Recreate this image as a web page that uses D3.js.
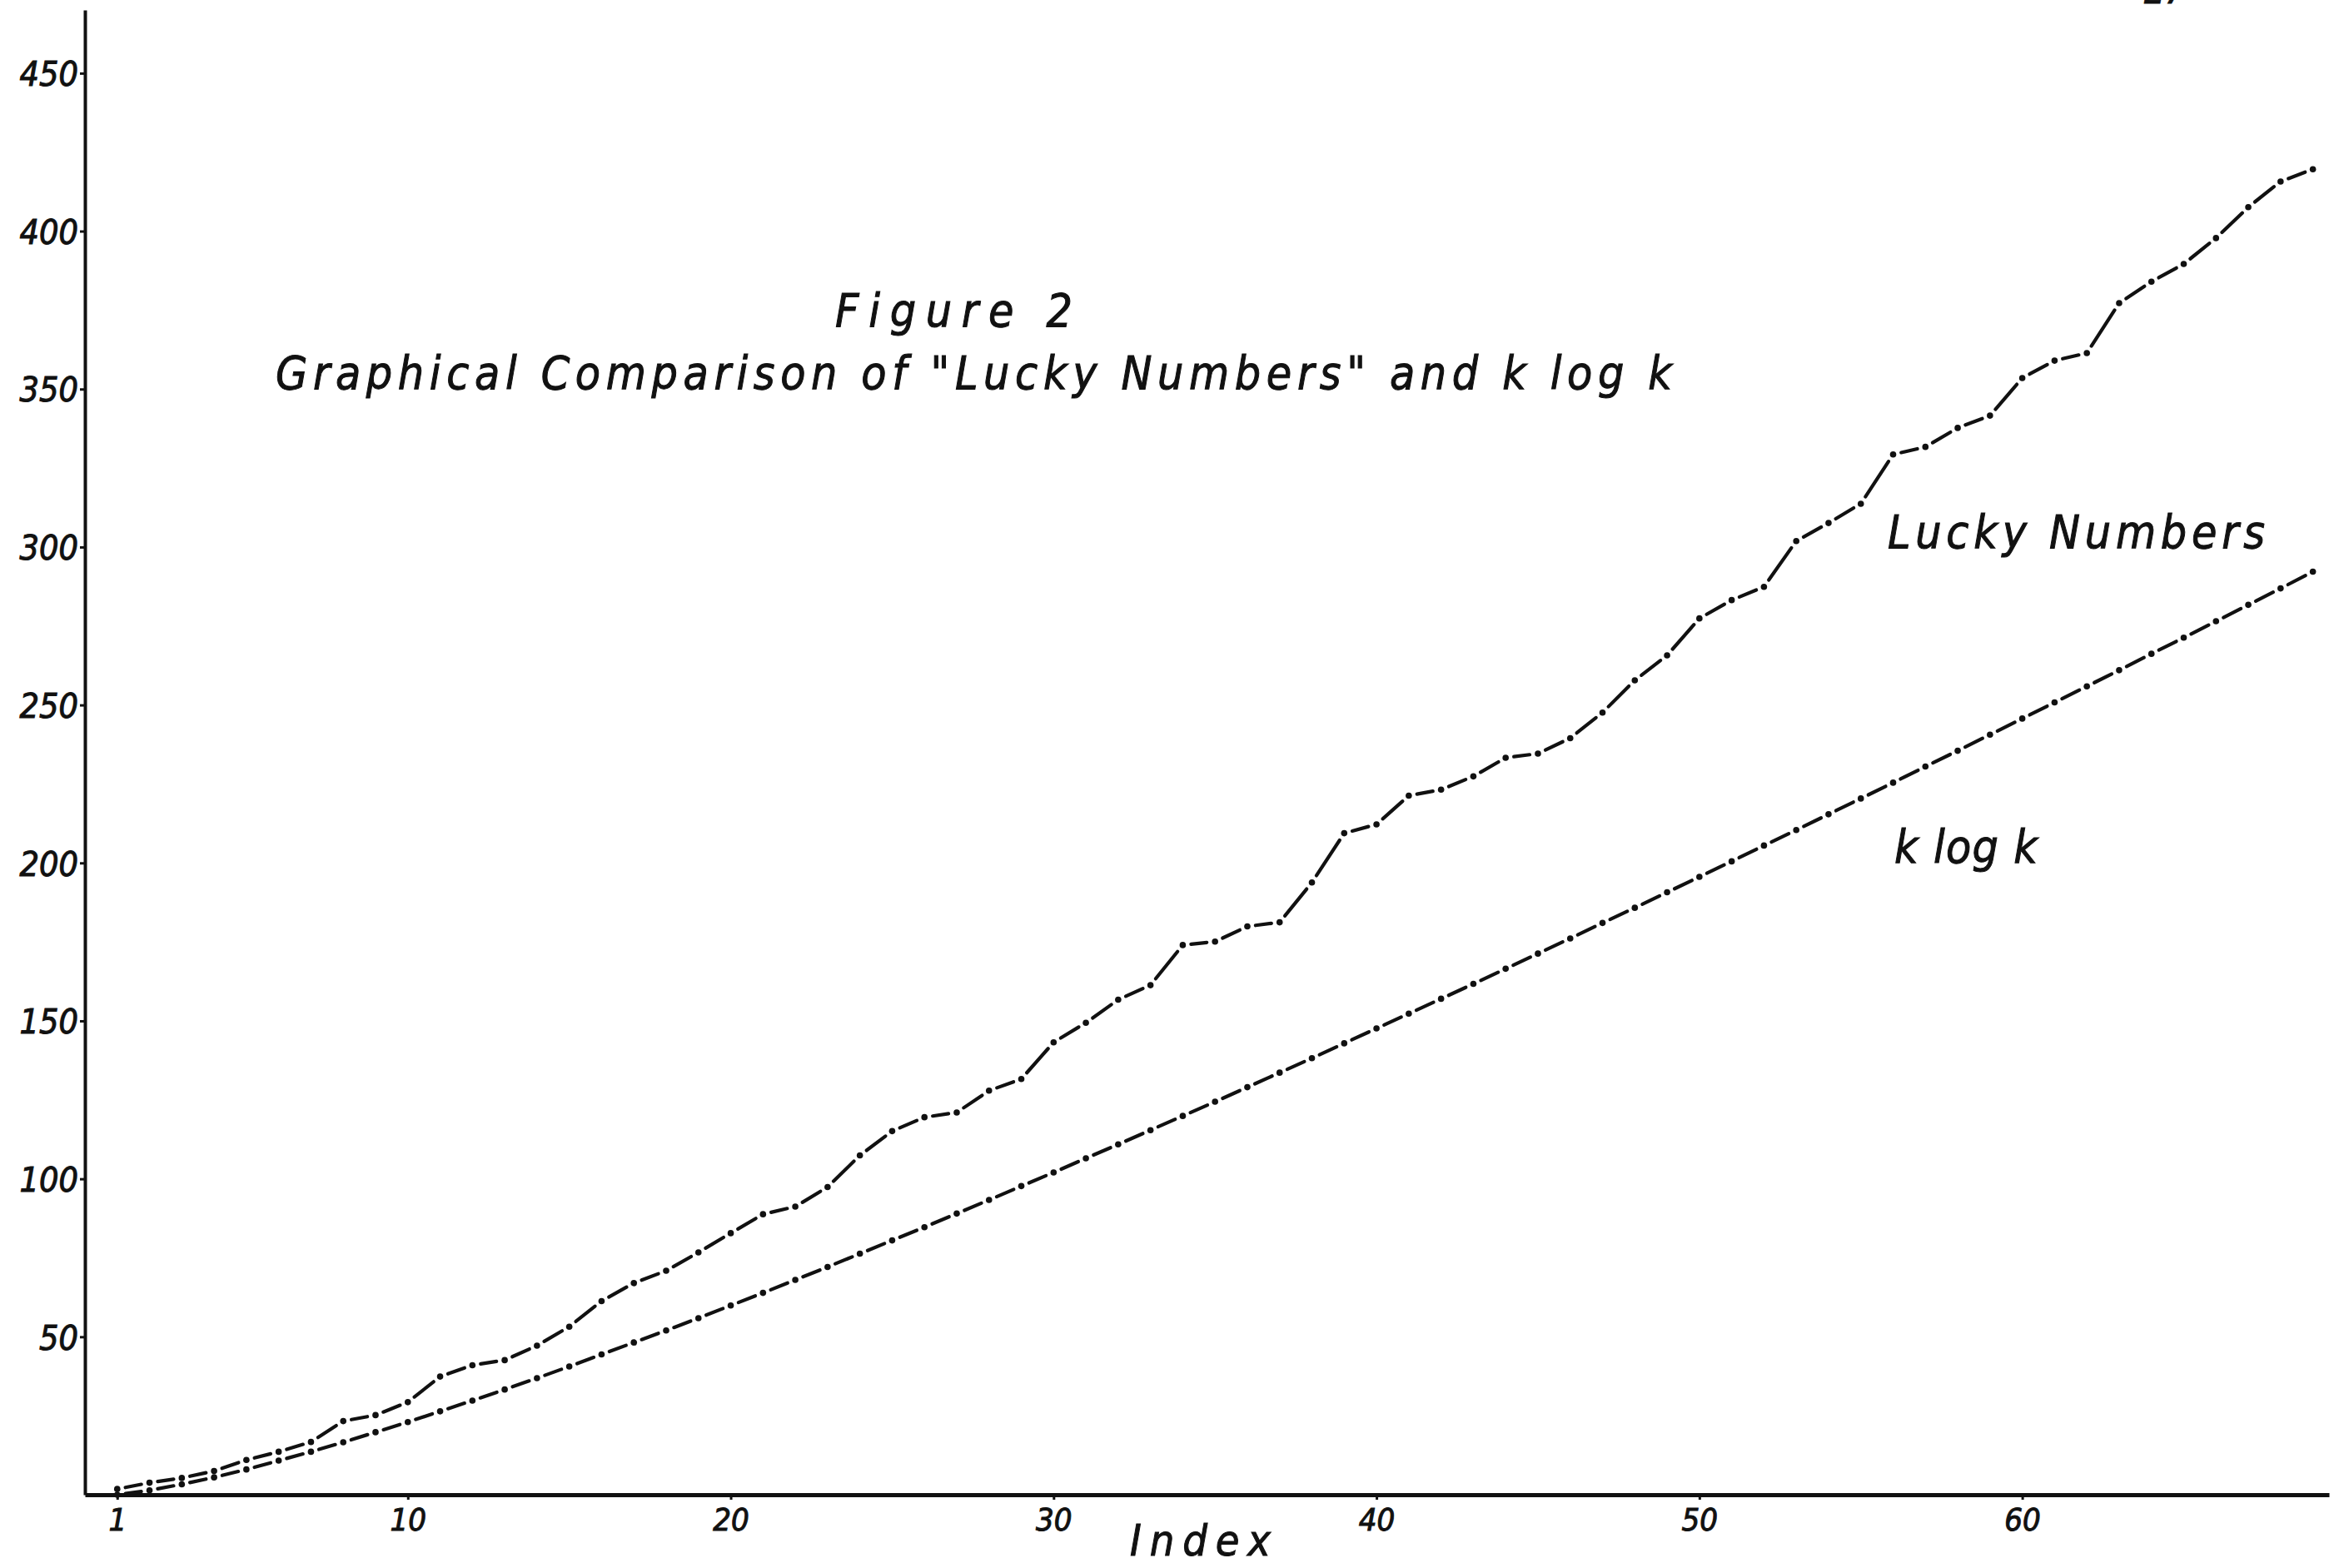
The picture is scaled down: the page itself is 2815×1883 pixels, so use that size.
<!DOCTYPE html>
<html>
<head>
<meta charset="utf-8">
<script src="https://cdn.jsdelivr.net/npm/d3@7"></script>
<style>
body { margin: 0; background: #fff; }
text { font-family: "DejaVu Sans", sans-serif; font-style: italic; font-stretch: condensed; fill: #111; stroke: #111; stroke-width: 1; }
</style>
</head>
<body>
<div id="chart"></div>
<script>
// index k = 1..69
var indexValues = d3.range(1, 70);

// upper curve
var luckyNumbers = [1.8, 3.8, 5.3, 7.5, 11, 13.6, 16.7, 23.3, 25.2, 29.3,
  37.4, 41, 42.6, 47.2, 53.2, 61.3, 67, 70.9, 76.7, 82.8,
  88.8, 91.2, 97.4, 107.4, 115.1, 119.5, 121, 127.9, 131.6, 143.2,
  149.4, 156.7, 161.3, 174, 175.1, 179.9, 181.2, 193.8, 209.4, 212.2,
  221.3, 223.2, 227.4, 233.3, 234.6, 239.5, 247.6, 257.8, 265.7, 277.4,
  283.2, 287.4, 301.9, 307.6, 313.7, 329.3, 331.7, 337.7, 341.6, 353.5,
  359, 361.4, 377.2, 384, 389.6, 397.8, 407.6, 415.7, 419.6];

// lower curve
var kLogK = [0, 1.4, 3.3, 5.5, 8.0, 10.8, 13.6, 16.6, 19.8, 23.0,
  26.4, 29.8, 33.3, 36.9, 40.6, 44.4, 48.2, 52.0, 55.9, 59.9,
  63.9, 68.0, 72.1, 76.3, 80.5, 84.7, 89.0, 93.3, 97.7, 102.0,
  106.5, 110.9, 115.4, 119.9, 124.4, 129.0, 133.6, 138.2, 142.9, 147.6,
  152.3, 157.0, 161.7, 166.5, 171.3, 176.1, 181.0, 185.8, 190.7, 195.6,
  200.5, 205.5, 210.4, 215.4, 220.4, 225.4, 230.5, 235.5, 240.6, 245.7,
  250.8, 255.9, 261.0, 266.2, 271.3, 276.5, 281.7, 286.9, 292.2];

var yTicks = [50, 100, 150, 200, 250, 300, 350, 400, 450];
var xTicks = [1, 10, 20, 30, 40, 50, 60];

var width = 2815, height = 1883;

var svg = d3.select("#chart").append("svg")
    .attr("width", width)
    .attr("height", height);

svg.append("rect")
    .attr("width", width)
    .attr("height", height)
    .attr("fill", "#fff");

var x = d3.scaleLinear().domain([0, 69.5]).range([102, 2797]);
var y = d3.scaleLinear().domain([0, 470]).range([1795, 12]);

// axes
var yAxis = svg.append("g")
    .attr("transform", "translate(" + x(0) + ",0)")
    .call(d3.axisLeft(y).tickValues(yTicks).tickSize(6).tickSizeOuter(0).tickPadding(2));
yAxis.attr("font-size", 41).attr("font-family", null);
yAxis.select(".domain").attr("stroke", "#111").attr("stroke-width", 4);
yAxis.selectAll(".tick line").attr("stroke", "#111").attr("stroke-width", 3);
yAxis.selectAll(".tick text").attr("dy", "0.36em");

var xAxis = svg.append("g")
    .attr("transform", "translate(0," + y(0) + ")")
    .call(d3.axisBottom(x).tickValues(xTicks).tickSize(6).tickSizeOuter(0).tickPadding(10));
xAxis.attr("font-size", 38).attr("font-family", null);
xAxis.select(".domain").attr("stroke", "#111").attr("stroke-width", 5);
xAxis.selectAll(".tick line").attr("stroke", "#111").attr("stroke-width", 3);

// dash-dot curves: a dot on every point, a dash between points
function drawSeries(values) {
  var pts = values.map(function(v, i) { return [x(indexValues[i]), y(v)]; });
  var gap = 10;
  var g = svg.append("g");
  g.selectAll("line")
    .data(d3.pairs(pts))
    .join("line")
      .each(function(p) {
        var dx = p[1][0] - p[0][0], dy = p[1][1] - p[0][1];
        var len = Math.sqrt(dx * dx + dy * dy);
        var t = gap / len;
        d3.select(this)
          .attr("x1", p[0][0] + dx * t)
          .attr("y1", p[0][1] + dy * t)
          .attr("x2", p[1][0] - dx * t)
          .attr("y2", p[1][1] - dy * t);
      })
      .attr("stroke", "#111")
      .attr("stroke-width", 4.2)
      .attr("stroke-linecap", "round");
  g.selectAll("circle")
    .data(pts)
    .join("circle")
      .attr("cx", function(d) { return d[0]; })
      .attr("cy", function(d) { return d[1]; })
      .attr("r", 3.8)
      .attr("fill", "#111");
}

drawSeries(kLogK);
drawSeries(luckyNumbers);

// lettering
function label(txt, px, py, size, len) {
  svg.append("text")
      .attr("x", px)
      .attr("y", py)
      .attr("font-size", size)
      .attr("textLength", len)
      .attr("lengthAdjust", "spacing")
      .text(txt);
}

label("Figure 2", 1003, 392, 55, 285);
label("Graphical Comparison of \"Lucky Numbers\" and k log k", 331, 467, 55, 1677);
label("Lucky Numbers", 2267, 658, 55, 453);
label("k log k", 2275, 1036, 55, 172);
label("Index", 1357, 1868, 52, 169);
label("27", 2575, 4, 44, 50);
</script>
</body>
</html>
